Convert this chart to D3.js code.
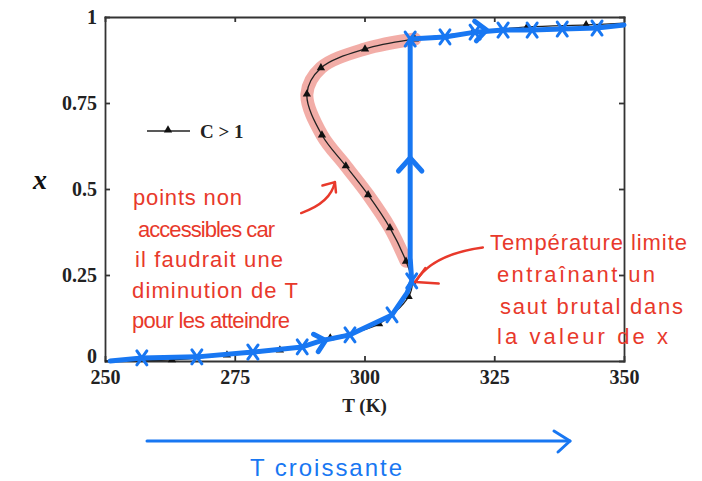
<!DOCTYPE html>
<html lang="fr">
<head>
<meta charset="UTF-8">
<title>x en fonction de T</title>
<script src="https://d3js.org/d3.v7.min.js"></script>
<style>
    body { margin: 0; background: #fff; }
    .axis text { font-family: "Liberation Serif", serif; font-weight: bold; font-size: 20px; fill: #222; }
    .axis path, .axis line { stroke: #333; stroke-width: 1.8; }
    .note { font-family: "Liberation Sans", sans-serif; fill: #e8392b; }
</style>
</head>
<body>
<div id="chart"></div>
<script>
    // S-curve (C > 1)
    const curveT = [250, 262.9, 273.5, 283.7, 293.4, 302.8, 308.5, 309.2, 308.0, 304.9, 300.7, 296.4, 291.8, 288.9, 291.6, 300.1, 309.7, 320.9, 331.3, 342.7, 350];
    const curveX = [0, 0.003, 0.017, 0.032, 0.067, 0.108, 0.187, 0.23, 0.29, 0.387, 0.483, 0.567, 0.657, 0.776, 0.852, 0.907, 0.936, 0.956, 0.971, 0.977, 0.982];
    // part of the curve highlighted in red (indices into the arrays above)
    const unstableFrom = 8, unstableTo = 16;

    // blue path followed when T increases
    const pathT = [251, 257.1, 267.7, 278.5, 288, 291.4, 297.2, 305.3, 308.2, 309.1, 308.8, 308.8, 315.5, 321.3, 326.7, 332.3, 338.1, 344.8, 350];
    const pathX = [0, 0.009, 0.012, 0.026, 0.041, 0.058, 0.076, 0.134, 0.198, 0.233, 0.3, 0.936, 0.942, 0.956, 0.962, 0.962, 0.965, 0.968, 0.977];
    const crossT = [257.1, 267.7, 278.5, 288, 297.2, 305.3, 309.1, 308.8, 315.5, 321.3, 326.7, 332.3, 338.1, 344.8];
    const crossX = [0.009, 0.012, 0.026, 0.041, 0.076, 0.134, 0.233, 0.936, 0.942, 0.956, 0.962, 0.962, 0.965, 0.968];

    const xTicks = [250, 275, 300, 325, 350];
    const yTicks = [0, 0.25, 0.5, 0.75, 1];
    const yTickLabels = ["0", "0.25", "0.5", "0.75", "1"];

    const noteLeft = ["points non", "accessibles car", "il faudrait une", "diminution de T", "pour les atteindre"];
    const noteRight = ["Température limite", "entraînant un", "saut brutal dans", "la valeur de x"];

    const margin = {top: 17, right: 78, bottom: 120, left: 105},
        width = 702 - margin.left - margin.right,
        height = 481 - margin.top - margin.bottom;

    const root = d3.select("#chart").append("svg")
        .attr("width", 702)
        .attr("height", 481);
    const svg = root.append("g")
        .attr("transform", `translate(${margin.left},${margin.top})`);

    const x = d3.scaleLinear().domain([250, 350]).range([0, width]);
    const y = d3.scaleLinear().domain([0, 1]).range([height, 0]);

    const blue = "#1877f2";
    const red = "#e8392b";

    // axes, ticks inside on all four sides
    svg.append("g").attr("class", "axis")
        .attr("transform", `translate(0,${height})`)
        .call(d3.axisBottom(x).tickValues(xTicks).tickSizeInner(-5).tickSizeOuter(0).tickPadding(9));
    svg.append("g").attr("class", "axis")
        .call(d3.axisTop(x).tickValues(xTicks).tickSizeInner(-5).tickSizeOuter(0).tickFormat(""));
    const yAxis = svg.append("g").attr("class", "axis")
        .call(d3.axisLeft(y).tickValues(yTicks).tickSizeInner(-5).tickSizeOuter(0).tickPadding(8)
            .tickFormat((d, i) => yTickLabels[i]));
    // lift the "0" a little so it clears the "250"
    yAxis.selectAll(".tick text").filter(d => d === 0).attr("y", -5);
    svg.append("g").attr("class", "axis")
        .attr("transform", `translate(${width},0)`)
        .call(d3.axisRight(y).tickValues(yTicks).tickSizeInner(-5).tickSizeOuter(0).tickFormat(""));
    svg.selectAll(".axis .domain").attr("stroke-linecap", "square");

    svg.append("text")
        .attr("x", x(300)).attr("y", height + 51)
        .attr("text-anchor", "middle")
        .style("font-family", "Liberation Serif, serif").style("font-weight", "bold").style("font-size", "19px")
        .attr("fill", "#222")
        .text("T (K)");
    svg.append("text")
        .attr("x", -65).attr("y", y(0.5))
        .attr("text-anchor", "middle")
        .style("font-family", "Liberation Serif, serif").style("font-weight", "bold").style("font-style", "italic")
        .style("font-size", "28px")
        .attr("fill", "#111")
        .text("x");

    const pts = curveT.map((t, i) => [t, curveX[i]]);
    const smooth = d3.line().x(d => x(d[0])).y(d => y(d[1])).curve(d3.curveCatmullRom.alpha(0.5));

    // red highlight of unreachable branch
    svg.append("path")
        .attr("d", smooth(pts.slice(unstableFrom, unstableTo + 1)))
        .attr("fill", "none")
        .attr("stroke", "rgba(232,105,95,0.55)")
        .attr("stroke-width", 13)
        .attr("stroke-linecap", "round");

    // black curve with triangles
    svg.append("path")
        .attr("d", smooth(pts))
        .attr("fill", "none")
        .attr("stroke", "#222")
        .attr("stroke-width", 1.3);
    const tri = d3.symbol().type(d3.symbolTriangle).size(30);
    svg.selectAll(".tri").data(pts.slice(1, -1)).enter().append("path")
        .attr("class", "tri")
        .attr("transform", d => `translate(${x(d[0])},${y(d[1])})`)
        .attr("d", tri)
        .attr("fill", "#111");

    // legend
    const lg = svg.append("g").attr("transform", "translate(42,114)");
    lg.append("line").attr("x1", 0).attr("x2", 43).attr("stroke", "#222").attr("stroke-width", 1.5);
    lg.append("path").attr("transform", "translate(21,-1)").attr("d", tri).attr("fill", "#111");
    lg.append("text").attr("x", 53).attr("y", 7)
        .style("font-family", "Liberation Serif, serif").style("font-weight", "bold").style("font-size", "19px")
        .attr("fill", "#222")
        .text("C > 1");

    // blue path (T croissante)
    const ppts = pathT.map((t, i) => [t, pathX[i]]);
    svg.append("path")
        .attr("d", d3.line().x(d => x(d[0])).y(d => y(d[1]))(ppts))
        .attr("fill", "none")
        .attr("stroke", blue)
        .attr("stroke-width", 5)
        .attr("stroke-linecap", "round")
        .attr("stroke-linejoin", "round");

    svg.selectAll(".cross").data(crossT.map((t, i) => [t, crossX[i]])).enter().append("path")
        .attr("class", "cross")
        .attr("transform", d => `translate(${x(d[0])},${y(d[1])})`)
        .attr("d", "M-5,-7L5,7M5,-7L-5,7")
        .attr("stroke", blue)
        .attr("stroke-width", 3)
        .attr("stroke-linecap", "round");

    // chevrons on the blue path
    function chevron(px, py, angle, s) {
        svg.append("path")
            .attr("transform", `translate(${px},${py}) rotate(${angle})`)
            .attr("d", `M${-s},${-s * 0.9}L0,0L${-s},${s * 0.9}`)
            .attr("fill", "none")
            .attr("stroke", blue)
            .attr("stroke-width", 5)
            .attr("stroke-linecap", "round")
            .attr("stroke-linejoin", "round");
    }
    chevron(x(292.5), y(0.06), -15, 10);
    chevron(x(308.8), y(0.59), -90, 13);
    chevron(x(323.5), y(0.962), -5, 11);

    // red notes, letter spacing stretched to the width of the handwriting
    const leftPos = [[28, 188, 109], [33, 220, 137], [30, 250, 148], [27, 281, 166], [27, 311, 158]];
    const rightPos = [[385, 233, 197], [392, 265, 158], [395, 297, 183], [392, 327, 171]];
    noteLeft.forEach((s, i) => {
        svg.append("text").attr("class", "note")
            .attr("x", leftPos[i][0]).attr("y", leftPos[i][1])
            .attr("textLength", leftPos[i][2]).attr("lengthAdjust", "spacing")
            .style("font-size", "22px")
            .text(s);
    });
    noteRight.forEach((s, i) => {
        svg.append("text").attr("class", "note")
            .attr("x", rightPos[i][0]).attr("y", rightPos[i][1])
            .attr("textLength", rightPos[i][2]).attr("lengthAdjust", "spacing")
            .style("font-size", "22px")
            .text(s);
    });

    const redArrow = (d) => svg.append("path").attr("d", d)
        .attr("fill", "none").attr("stroke", red).attr("stroke-width", 2.5)
        .attr("stroke-linecap", "round").attr("stroke-linejoin", "round");
    redArrow(`M${x(287.8)},${y(0.43)} Q${x(293.5)},${y(0.46)} ${x(294.3)},${y(0.52)}`);
    redArrow(`M${x(291.9)},${y(0.51)} L${x(294.3)},${y(0.52)} L${x(294.5)},${y(0.49)}`);
    redArrow(`M${x(322.8)},${y(0.33)} Q${x(313)},${y(0.31)} ${x(309.8)},${y(0.23)}`);
    redArrow(`M${x(311.7)},${y(0.27)} L${x(309.8)},${y(0.23)} L${x(314.3)},${y(0.225)}`);

    // bottom arrow "T croissante"
    root.append("line")
        .attr("x1", 147).attr("x2", 570).attr("y1", 441).attr("y2", 441)
        .attr("stroke", blue).attr("stroke-width", 3).attr("stroke-linecap", "round");
    root.append("path")
        .attr("d", "M554,431L570,441L558,452")
        .attr("fill", "none").attr("stroke", blue).attr("stroke-width", 3)
        .attr("stroke-linecap", "round").attr("stroke-linejoin", "round");
    root.append("text")
        .attr("x", 250).attr("y", 476)
        .attr("textLength", 152).attr("lengthAdjust", "spacing")
        .style("font-family", "Liberation Sans, sans-serif").style("font-size", "24px")
        .attr("fill", blue)
        .text("T croissante");
</script>
</body>
</html>
